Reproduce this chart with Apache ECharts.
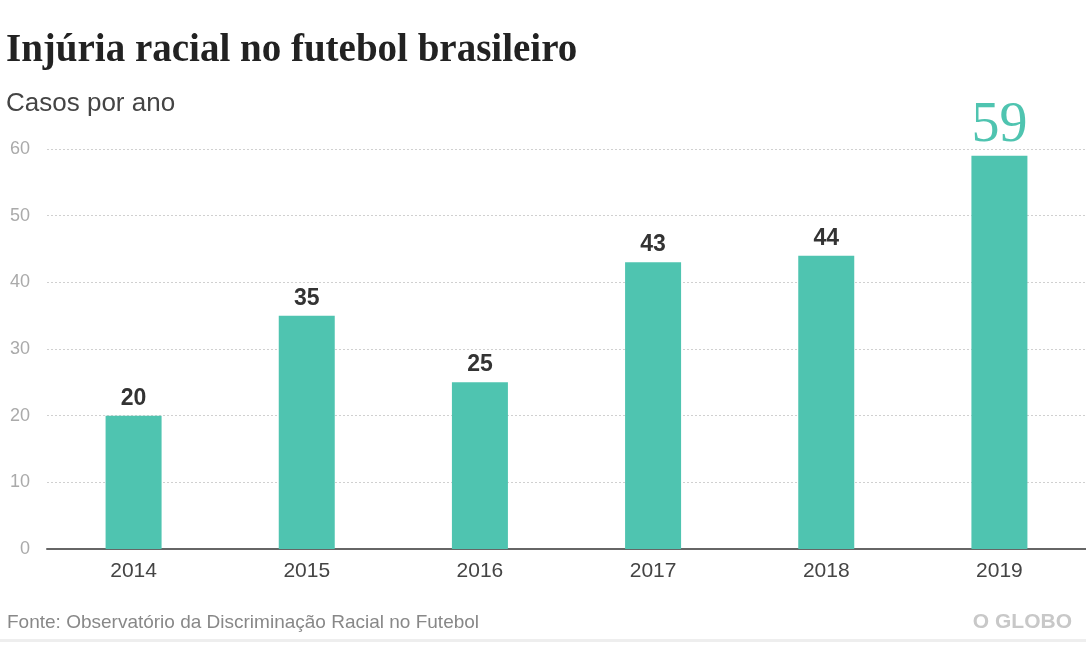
<!DOCTYPE html>
<html><head><meta charset="utf-8">
<script src="https://cdn.jsdelivr.net/npm/echarts@6/dist/echarts.min.js"></script>
<style>html,body{margin:0;padding:0;background:#fff;}#c{width:1086px;height:652px;}</style>
</head><body><div id="c"></div>
<script>
const categories = ["2014","2015","2016","2017","2018","2019"];
const values = [20,35,25,43,44,59];
const yTicks = [0,10,20,30,40,50,60];
const titleText = "Injúria racial no futebol brasileiro";
const subtitleText = "Casos por ano";
const sourceText = "Fonte: Observatório da Discriminação Racial no Futebol";
const brandText = "O GLOBO";

const teal = "#4fc4b0";
const sans = '"Liberation Sans", Arial, sans-serif';
const chart = echarts.init(document.getElementById('c'), null, {renderer:'canvas'});
const data = values.map((v,i)=> i===values.length-1 ? {
  value:v,
  label:{fontFamily:'"Liberation Serif", serif', fontWeight:'normal', fontSize:56, color:teal, distance:1}
} : v);
chart.setOption({
  animation:false,
  title:[
    {text:titleText, left:1, top:26, textStyle:{fontFamily:'"Liberation Serif", serif', fontWeight:'bold', fontSize:39, color:'#222'}},
    {text:subtitleText, left:1, top:86, textStyle:{fontFamily:sans, fontWeight:'normal', fontSize:26, color:'#444'}},
    {text:sourceText, left:2, top:608, textStyle:{fontFamily:sans, fontWeight:'normal', fontSize:19, color:'#888'}},
    {text:brandText, right:9, top:607, textStyle:{fontFamily:sans, fontWeight:'bold', fontSize:21, color:'#c8c8c8'}}
  ],
  graphic:[{type:'rect', shape:{x:0,y:639,width:1086,height:3}, style:{fill:'#eeeeee'}}],
  grid:{left:47, right:-2, top:149, bottom:103, containLabel:false},
  xAxis:{type:'category', data:categories,
    axisLine:{lineStyle:{color:'#666', width:2}}, axisTick:{show:false},
    axisLabel:{fontFamily:sans, fontSize:21, color:'#444', margin:12}},
  yAxis:{type:'value', min:yTicks[0], max:yTicks[yTicks.length-1], interval:10,
    axisLine:{show:false}, axisTick:{show:false},
    axisLabel:{fontFamily:sans, fontSize:18, color:'#aaa', margin:17}},
  series:[{type:'bar', data:data, barWidth:56, itemStyle:{color:teal},
    label:{show:true, position:'top', distance:6, fontFamily:sans, fontWeight:'bold', fontSize:23, color:'#333'}}]
});
chart.setOption({yAxis:{splitLine:{lineStyle:{color:'#d0d0d0', type:[2,2], width:1}}}});
</script></body></html>
